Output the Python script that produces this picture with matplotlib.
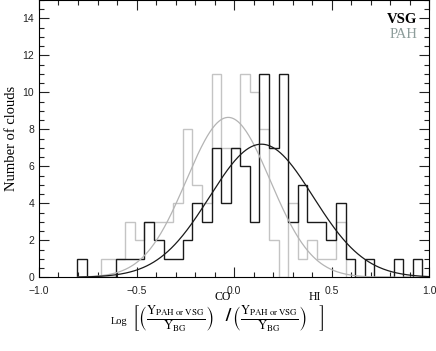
import matplotlib
matplotlib.use("Agg")
import matplotlib.pyplot as plt
import numpy as np

# histogram bins (log ratio), shared by both samples
bin_start = -0.803
bin_width = 0.0491
n_bins = 36

vsg_counts = [1, 0, 0, 0, 1, 1, 1, 3, 2, 1, 1, 2, 4, 3, 7, 4, 7, 6,
              3, 11, 7, 11, 3, 5, 3, 3, 2, 4, 1, 0, 1, 0, 0, 1, 0, 1]

# PAH histogram starts half way into bin 2 and stops after bin 27
pah_first_edge = -0.68
pah_first_bin = 2
pah_counts = [1, 1, 1, 3, 2, 3, 3, 3, 4, 8, 5, 4, 11, 7, 7, 11, 10, 8,
              2, 0, 4, 1, 2, 1, 1, 3]

# gaussian fits (amplitude, mean, sigma)
vsg_fit = (7.2, 0.14, 0.265)
pah_fit = (8.65, -0.03, 0.215)

vsg_color = "#1a1a1a"
pah_color = "#c4c4c4"
pah_text_color = "#8d9d9b"

plt.rcParams["mathtext.fontset"] = "stix"

edges = bin_start + bin_width * np.arange(n_bins + 1)
pah_edges = np.concatenate([[pah_first_edge],
                            edges[pah_first_bin + 1:pah_first_bin + len(pah_counts) + 1]])

fig = plt.figure(figsize=(4.36, 3.51), dpi=100)
ax = fig.add_axes([0.0894, 0.21, 0.895, 0.79])

ax.stairs(pah_counts, pah_edges, color=pah_color, lw=1.0, baseline=0)
ax.stairs(vsg_counts, edges, color=vsg_color, lw=1.0, baseline=0)

x = np.linspace(-0.8, 1.0, 400)
a, m, s = pah_fit
ax.plot(x, a * np.exp(-(x - m) ** 2 / (2 * s ** 2)), color="#b4b4b4", lw=0.9)
a, m, s = vsg_fit
ax.plot(x, a * np.exp(-(x - m) ** 2 / (2 * s ** 2)), color=vsg_color, lw=0.9)

ax.set_xlim(-1.0, 1.0)
ax.set_ylim(0, 15)
ax.set_xticks([-1.0, -0.5, 0.0, 0.5, 1.0])
ax.set_xticks(np.arange(-1.0, 1.01, 0.1), minor=True)
ax.set_yticks(range(0, 15, 2))
ax.set_yticks(np.arange(0, 15.01, 0.5), minor=True)
ax.xaxis.set_major_formatter(matplotlib.ticker.FuncFormatter(
    lambda v, p: ("%.1f" % v).replace("-", "\u2212")))
ax.tick_params(which="both", direction="in", top=True, right=True,
               labelsize=7.5, width=0.8, color="#222222", labelcolor="#222222")
ax.tick_params(which="major", length=7)
ax.tick_params(which="minor", length=3.5)
ax.tick_params(axis="x", pad=6)
for lab in ax.get_xticklabels() + ax.get_yticklabels():
    lab.set_family("Liberation Sans")
for sp in ax.spines.values():
    sp.set_linewidth(0.8)

ax.set_ylabel("Number of clouds", family="Liberation Serif", fontsize=10.5,
              labelpad=3)

ax.text(0.97, 0.928, "VSG", transform=ax.transAxes, ha="right", va="center",
        family="Liberation Serif", fontsize=10.5, fontweight="bold", color="black")
ax.text(0.97, 0.877, "PAH", transform=ax.transAxes, ha="right", va="center",
        family="Liberation Serif", fontsize=10.5, color=pah_text_color)

frac = r"\left(\frac{\mathrm{Y_{PAH\ or\ VSG}}}{\mathrm{Y_{BG}}}\right)"
label = r"$\left[" + frac + r"\hspace{0.9}\mathbf{/}\," + frac + r"\hspace{0.9}\right]$"
fig.text(132 / 436, 1 - 319 / 351, label, ha="left", va="center", fontsize=13)
fig.text(214 / 436, 1 - 297 / 351, "CO", ha="left", va="center",
         family="Liberation Serif", fontsize=8.5)
fig.text(309 / 436, 1 - 297 / 351, "HI", ha="left", va="center",
         family="Liberation Serif", fontsize=8.5)
fig.text(127 / 436, 1 - 322 / 351, "Log", ha="right", va="center",
         family="Liberation Serif", fontsize=7.5)

fig.savefig("out.png", dpi=100)
